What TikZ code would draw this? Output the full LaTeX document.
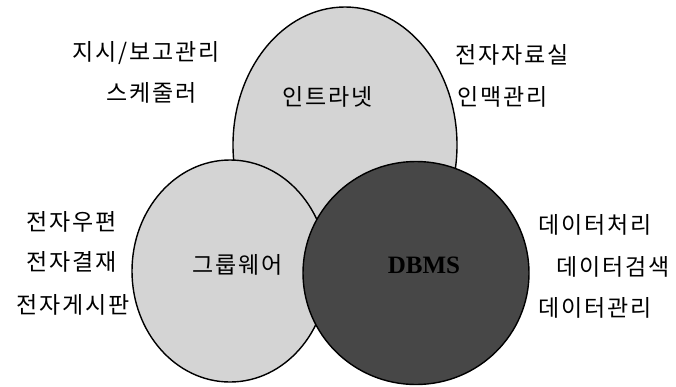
\documentclass[tikz,border=0pt]{standalone}
\usepackage{fontspec}
\setmainfont{Liberation Serif}
\newfontfamily\krfont[LetterSpace=8]{Noto Sans CJK KR}
\usetikzlibrary{shapes.geometric}
\tikzset{
  blob/.style={ellipse, draw=black, line width=1.4pt, inner sep=0pt},
  lightblob/.style={blob, fill=black!17},
  darkblob/.style={blob, fill=black!72},
  lbl/.style={font=\krfont\fontsize{23}{26}\selectfont, text=black, inner sep=0pt},
  dblbl/.style={font=\bfseries\fontsize{25}{28}\selectfont, text=black, inner sep=0pt}
}
\begin{document}
\begin{tikzpicture}[x=1pt,y=-1pt]
\useasboundingbox (0,0) rectangle (676,386);
\fill[white] (0,0) rectangle (676,386);
% circles
\node[lightblob, minimum width=224pt, minimum height=276pt] (intra) at (345,145) {};
\node[lightblob, minimum width=196pt, minimum height=222pt] (group) at (230,271) {};
\node[darkblob, minimum width=226pt, minimum height=223pt] (dbms) at (416,273) {};
% circle labels
\node[lbl] (tintra) at (328,97) {인트라넷};
\node[lbl] (tgroup) at (238,265) {그룹웨어};
\node[dblbl] (tdbms) at (424,265) {DBMS};
% intranet items
\node[lbl] (a1) at (146,53) {지시/보고관리};
\node[lbl] (a2) at (152,93) {스케줄러};
\node[lbl] (b1) at (512,55) {전자자료실};
\node[lbl] (b2) at (503,97) {인맥관리};
% groupware items
\node[lbl] (c1) at (72,222) {전자우편};
\node[lbl] (c2) at (72,262) {전자결재};
\node[lbl] (c3) at (73,305) {전자게시판};
% dbms items
\node[lbl] (d1) at (595,225) {데이터처리};
\node[lbl] (d2) at (613,267) {데이터검색};
\node[lbl] (d3) at (595,308) {데이터관리};
\end{tikzpicture}
\end{document}
